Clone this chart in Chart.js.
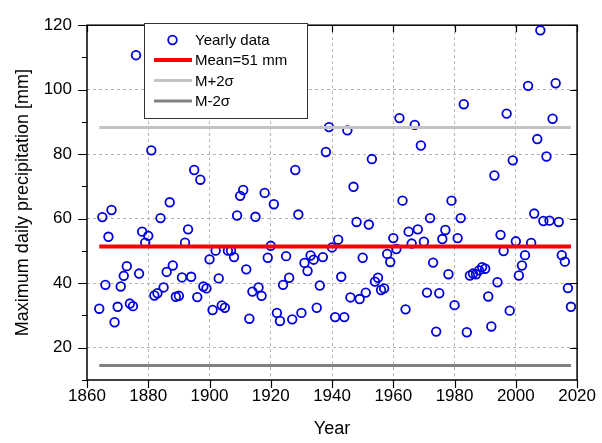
<!DOCTYPE html>
<html>
<head>
<meta charset="utf-8">
<script src="https://cdn.jsdelivr.net/npm/chart.js@4.4.0/dist/chart.umd.min.js"></script>
<style>
  html, body { margin: 0; background: #fff; }
</style>
</head>
<body>
<canvas id="chart" width="602" height="443"></canvas>
<script>
// ── data ─────────────────────────────────────────────────────────────────────
const years = [
  1864, 1865, 1866, 1867, 1868, 1869,
  1870, 1871, 1872, 1873, 1874, 1875, 1876, 1877, 1878, 1879,
  1880, 1881, 1882, 1883, 1884, 1885, 1886, 1887, 1888, 1889,
  1890, 1891, 1892, 1893, 1894, 1895, 1896, 1897, 1898, 1899,
  1900, 1901, 1902, 1903, 1904, 1905, 1906, 1907, 1908, 1909,
  1910, 1911, 1912, 1913, 1914, 1915, 1916, 1917, 1918, 1919,
  1920, 1921, 1922, 1923, 1924, 1925, 1926, 1927, 1928, 1929,
  1930, 1931, 1932, 1933, 1934, 1935, 1936, 1937, 1938, 1939,
  1940, 1941, 1942, 1943, 1944, 1945, 1946, 1947, 1948, 1949,
  1950, 1951, 1952, 1953, 1954, 1955, 1956, 1957, 1958, 1959,
  1960, 1961, 1962, 1963, 1964, 1965, 1966, 1967, 1968, 1969,
  1970, 1971, 1972, 1973, 1974, 1975, 1976, 1977, 1978, 1979,
  1980, 1981, 1982, 1983, 1984, 1985, 1986, 1987, 1988, 1989,
  1990, 1991, 1992, 1993, 1994, 1995, 1996, 1997, 1998, 1999,
  2000, 2001, 2002, 2003, 2004, 2005, 2006, 2007, 2008, 2009,
  2010, 2011, 2012, 2013, 2014, 2015, 2016, 2017, 2018,
];

// maximum daily precipitation [mm], one per year
const precip = [
  32.1, 60.5, 39.5, 54.4, 62.7, 27.9,
  32.7, 39.0, 42.3, 45.3, 33.7, 32.9, 110.7, 43.0, 56.0, 52.6,
  54.7, 81.2, 36.2, 36.9, 60.2, 38.7, 43.5, 65.1, 45.5, 35.8,
  36.1, 41.8, 52.6, 56.7, 42.0, 75.1, 35.7, 72.1, 39.0, 38.4,
  47.4, 31.7, 50.1, 41.5, 33.1, 32.4, 50.1, 50.1, 48.1, 61.0,
  67.1, 68.9, 44.3, 29.0, 37.4, 60.6, 38.7, 36.1, 68.0, 47.9,
  51.6, 64.5, 30.8, 28.3, 39.5, 48.4, 41.7, 28.8, 75.1, 61.3,
  30.8, 46.3, 43.8, 48.6, 47.3, 32.4, 39.3, 48.1, 80.7, 88.4,
  51.1, 29.5, 53.5, 42.0, 29.5, 87.4, 35.6, 69.9, 59.0, 35.1,
  47.9, 37.1, 58.2, 78.5, 40.5, 41.7, 37.9, 38.4, 49.1, 46.6,
  54.0, 50.6, 91.2, 65.6, 31.9, 56.0, 52.3, 89.1, 56.7, 82.7,
  52.9, 37.1, 60.2, 46.4, 25.0, 36.9, 53.7, 56.5, 42.8, 65.6,
  33.2, 54.0, 60.2, 95.5, 24.8, 42.4, 43.0, 42.8, 44.0, 45.0,
  44.5, 35.9, 26.6, 73.4, 40.3, 55.0, 50.0, 92.6, 31.5, 78.1,
  53.0, 42.4, 45.5, 48.7, 101.2, 52.5, 61.6, 84.7, 118.4, 59.3,
  79.3, 59.4, 91.0, 102.0, 59.0, 48.7, 46.7, 38.5, 32.7,
];

const MEAN = 51.4;
const UPPER = 88.3;   // M+2σ
const LOWER = 14.5;   // M-2σ

const xTicks = [1860, 1880, 1900, 1920, 1940, 1960, 1980, 2000, 2020];
const yTicks = [20, 40, 60, 80, 100, 120];

// ── chart ────────────────────────────────────────────────────────────────────
const FONT = 'Liberation Sans, Arial, sans-serif';
const first = years[0];
const last = years[years.length - 1];

function hline(label, value, color, width) {
  return {
    label: label,
    data: [{ x: first, y: value }, { x: last, y: value }],
    showLine: true,
    borderColor: color,
    backgroundColor: color,
    borderWidth: width,
    pointRadius: 0,
    order: 1,
  };
}

// frame, tick marks and the in-plot legend box
const framePlugin = {
  id: 'frame',
  afterDraw(chart) {
    const { ctx, chartArea: a, scales } = chart;
    ctx.save();
    ctx.strokeStyle = '#000';
    ctx.lineWidth = 1.2;
    ctx.beginPath();
    for (let v = 10; v <= 120; v += 10) {
      const y = Math.round(scales.y.getPixelForValue(v)) + 0.5;
      const major = yTicks.includes(v);
      ctx.moveTo(a.left, y); ctx.lineTo(a.left - (major ? 9 : 5), y);
      if (major) { ctx.moveTo(a.right, y); ctx.lineTo(a.right - 7, y); }
    }
    xTicks.forEach(v => {
      const x = Math.round(scales.x.getPixelForValue(v)) + 0.5;
      ctx.moveTo(x, a.bottom); ctx.lineTo(x, a.bottom + 8);
      ctx.moveTo(x, a.top); ctx.lineTo(x, a.top + 7);
    });
    ctx.stroke();
    ctx.lineWidth = 1.5;
    ctx.strokeRect(a.left, a.top, a.right - a.left, a.bottom - a.top);

    // legend
    const bx = 144.5, by = 23.5, bw = 163, bh = 95;
    ctx.fillStyle = '#fff';
    ctx.fillRect(bx, by, bw, bh);
    ctx.lineWidth = 1;
    ctx.strokeStyle = '#333';
    ctx.strokeRect(bx, by, bw, bh);
    const rows = [40, 60, 80.5, 101];
    ctx.font = '15px ' + FONT;
    ctx.textBaseline = 'middle';
    chart.data.datasets.forEach((ds, i) => {
      const y = rows[i];
      if (i === 0) {
        ctx.beginPath();
        ctx.arc(172.5, y, ds.pointRadius, 0, Math.PI * 2);
        ctx.strokeStyle = ds.borderColor;
        ctx.lineWidth = ds.borderWidth;
        ctx.stroke();
      } else {
        ctx.beginPath();
        ctx.moveTo(154, y); ctx.lineTo(192, y);
        ctx.strokeStyle = ds.borderColor;
        ctx.lineWidth = ds.borderWidth;
        ctx.stroke();
      }
      ctx.fillStyle = '#000';
      ctx.fillText(ds.label, 195, y + 1);
    });
    ctx.restore();
  },
};

new Chart(document.getElementById('chart'), {
  type: 'scatter',
  data: {
    datasets: [
      {
        label: 'Yearly data',
        data: years.map((yr, i) => ({ x: yr, y: precip[i] })),
        showLine: false,
        pointRadius: 4.3,
        pointHoverRadius: 4.3,
        borderColor: '#0000dd',
        backgroundColor: 'rgba(0,0,0,0)',
        borderWidth: 1.8,
        order: 2,
      },
      hline('Mean=51 mm', MEAN, '#ff0000', 4),
      hline('M+2σ', UPPER, '#c4c4c4', 3),
      hline('M-2σ', LOWER, '#808080', 3),
    ],
  },
  options: {
    responsive: false,
    animation: false,
    devicePixelRatio: 1,
    layout: { padding: { top: 18, right: 21, left: 0, bottom: 0 } },
    plugins: {
      legend: { display: false },
      tooltip: { enabled: false },
    },
    scales: {
      x: {
        type: 'linear',
        min: 1860,
        max: 2020,
        afterBuildTicks: s => { s.ticks = xTicks.map(v => ({ value: v })); },
        afterFit: s => { s.height = 63; },
        ticks: {
          color: '#000', font: { family: FONT, size: 17 }, padding: 6,
          callback: v => String(v),
        },
        grid: {
          drawTicks: false,
          color: c => (c.tick && c.tick.value > 1860 && c.tick.value < 2020) ? '#b4b4b4' : 'rgba(0,0,0,0)',
        },
        border: { display: false, dash: [3, 3] },
        title: {
          display: true, text: 'Year', color: '#000',
          font: { family: FONT, size: 18 }, padding: { top: 0, bottom: 3 },
        },
      },
      y: {
        min: 10,
        max: 120,
        afterBuildTicks: s => { s.ticks = yTicks.map(v => ({ value: v })); },
        afterFit: s => { s.width = 87; },
        ticks: {
          color: '#000', font: { family: FONT, size: 17 }, padding: 15,
          callback: v => String(v),
        },
        grid: {
          drawTicks: false,
          color: c => (c.tick && c.tick.value < 120) ? '#b4b4b4' : 'rgba(0,0,0,0)',
        },
        border: { display: false, dash: [3, 3] },
        title: {
          display: true, text: 'Maximum daily precipitation [mm]', color: '#000',
          font: { family: FONT, size: 18 }, padding: { top: 12, bottom: 0 },
        },
      },
    },
  },
  plugins: [framePlugin],
});
</script>
</body>
</html>
